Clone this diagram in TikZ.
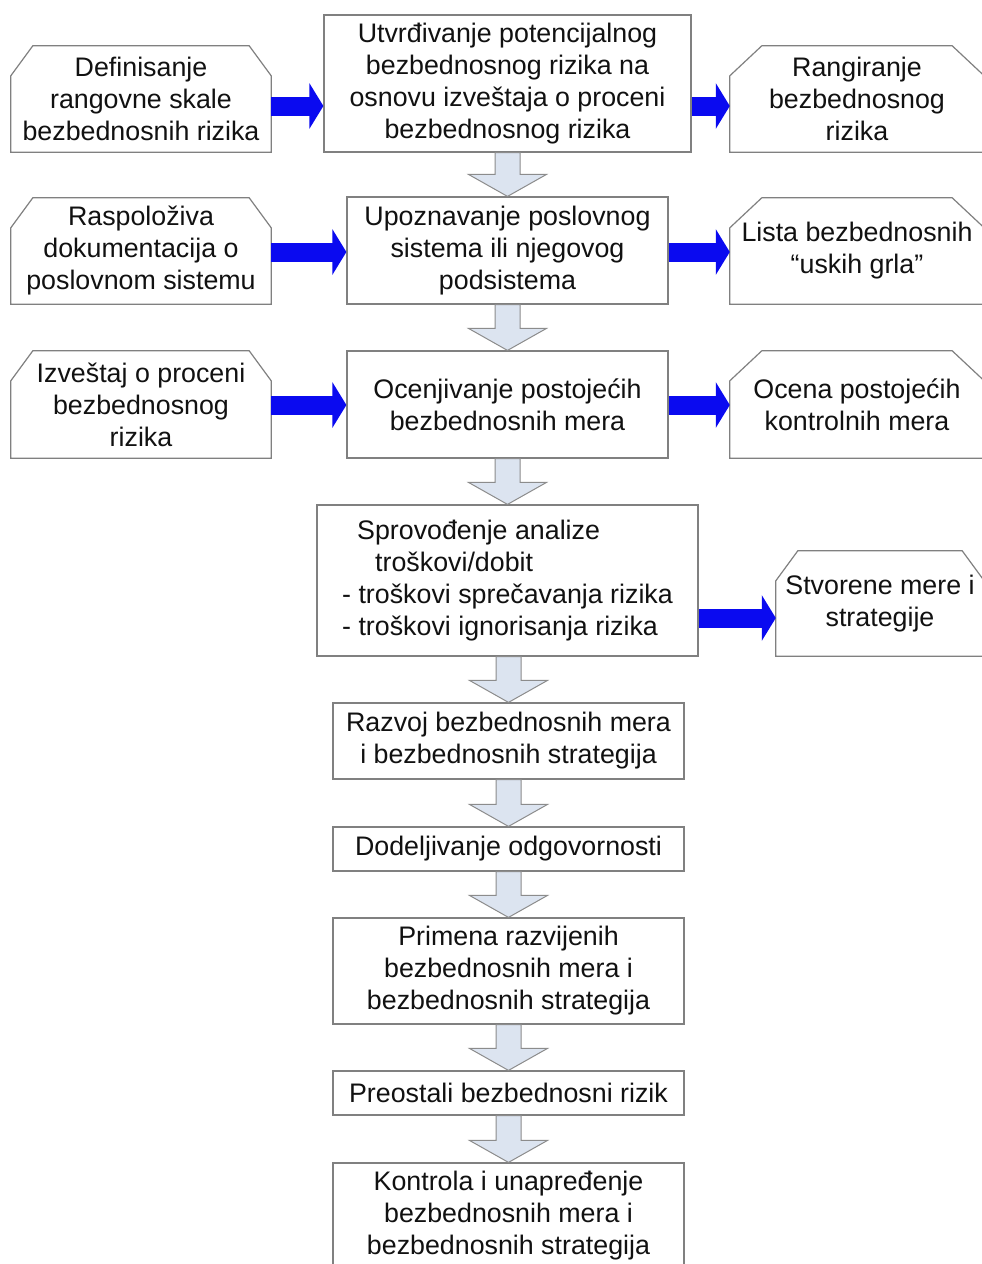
\documentclass[tikz,border=0pt]{standalone}
\usepackage{fontspec}
\setmainfont{Liberation Sans}
\usetikzlibrary{calc,arrows.meta}
\definecolor{boxgray}{HTML}{808080}
\definecolor{arrblue}{HTML}{0A0AF0}
\definecolor{arrfill}{HTML}{DCE4F0}
\definecolor{arredge}{HTML}{8C8C8C}
\definecolor{txt}{HTML}{111111}
\newcommand{\cutbox}[3]{\draw[boxline] (#1.south west) -- ($(#1.north west)+(0,#3)$) -- ($(#1.north west)+(#2,0)$) -- ($(#1.north east)+(-#2,0)$) -- ($(#1.north east)+(0,#3)$) -- (#1.south east) -- cycle;}
\newcommand{\downarr}[2]{\filldraw[grayarr] ($(#2.north |- #1.south)+(-12.5,0)$) -- ($(#2.north)+(-12.5,-22)$) -- ($(#2.north)+(-39,-22)$) -- (#2.north) -- ($(#2.north)+(39,-22)$) -- ($(#2.north)+(12.5,-22)$) -- ($(#2.north |- #1.south)+(12.5,0)$) -- cycle;}
\begin{document}
\begin{tikzpicture}[x=1pt,y=-1pt,
  every node/.style={font=\fontsize{26.8pt}{32pt}\selectfont, text=txt, align=center, inner sep=0pt},
  mainbox/.style={draw=boxgray, line width=1.2pt, fill=white},
  sidebox/.style={},
  boxline/.style={draw=boxgray, line width=1.2pt},
  bluearr/.style={draw=arrblue, line width=19pt, -{Triangle[length=14pt,width=45pt]}},
  grayarr/.style={fill=arrfill, draw=arredge, line width=1pt, line join=miter}]
\useasboundingbox (0,0) rectangle (982,1264);
\clip (0,0) rectangle (982,1264);
\fill[white] (0,0) rectangle (982,1264);

% central column
\node[mainbox, minimum width=367pt, minimum height=137pt] (C1) at (507.5,83.5) {Utvrđivanje potencijalnog\\bezbednosnog rizika na\\osnovu izveštaja o proceni\\bezbednosnog rizika};
\node[mainbox, minimum width=321pt, minimum height=107pt] (C2) at (507.5,250.5) {Upoznavanje poslovnog\\sistema ili njegovog\\podsistema};
\node[mainbox, minimum width=321pt, minimum height=107pt] (C3) at (507.5,404.5) {Ocenjivanje postojećih\\bezbednosnih mera};
\node[mainbox, minimum width=381pt, minimum height=151pt, align=left] (C4) at (507.5,580.5) {\hspace*{15pt}Sprovođenje analize\\\hspace*{33pt}troškovi/dobit\\- troškovi sprečavanja rizika\\- troškovi ignorisanja rizika};
\node[mainbox, minimum width=351pt, minimum height=76pt] (C5) at (508.5,741) {Razvoj bezbednosnih mera\\i bezbednosnih strategija};
\node[mainbox, minimum width=351pt, minimum height=44pt] (C6) at (508.5,849) {Dodeljivanje odgovornosti};
\node[mainbox, minimum width=351pt, minimum height=106pt] (C7) at (508.5,971) {Primena razvijenih\\bezbednosnih mera i\\bezbednosnih strategija};
\node[mainbox, minimum width=351pt, minimum height=44pt] (C8) at (508.5,1093) {Preostali bezbednosni rizik};
\node[mainbox, minimum width=351pt, minimum height=106pt] (C9) at (508.5,1216) {Kontrola i unapređenje\\bezbednosnih mera i\\bezbednosnih strategija};

% left inputs
\node[sidebox, minimum width=260pt, minimum height=106pt] (L1) at (141,99) {Definisanje\\rangovne skale\\bezbednosnih rizika};
\node[sidebox, minimum width=260pt, minimum height=106pt] (L2) at (141,251) {Raspoloživa\\dokumentacija o\\poslovnom sistemu};
\node[sidebox, minimum width=260pt, minimum height=107pt] (L3) at (141,404.5) {Izveštaj o proceni\\bezbednosnog\\rizika};
\cutbox{L1}{22}{30}
\cutbox{L2}{22}{30}
\cutbox{L3}{22}{30}

% right outputs
\node[sidebox, minimum width=254pt, minimum height=106pt] (R1) at (857,99) {Rangiranje\\bezbednosnog\\rizika};
\node[sidebox, minimum width=254pt, minimum height=106pt] (R2) at (857,251) {Lista bezbednosnih\\“uskih grla”};
\node[sidebox, minimum width=254pt, minimum height=107pt] (R3) at (857,404.5) {Ocena postojećih\\kontrolnih mera};
\node[sidebox, minimum width=208pt, minimum height=105pt] (R4) at (880,603.5) {Stvorene mere i\\strategije};
\cutbox{R1}{32}{30}
\cutbox{R2}{32}{30}
\cutbox{R3}{32}{30}
\cutbox{R4}{22}{30}

% blue arrows
\draw[bluearr] (L1.east |- 0,106) -- (C1.west |- 0,106);
\draw[bluearr] (C1.east |- 0,106) -- (R1.west |- 0,106);
\draw[bluearr] (L2.east |- 0,252) -- (C2.west |- 0,252);
\draw[bluearr] (C2.east |- 0,252) -- (R2.west |- 0,252);
\draw[bluearr] (L3.east |- 0,405) -- (C3.west |- 0,405);
\draw[bluearr] (C3.east |- 0,405) -- (R3.west |- 0,405);
\draw[bluearr] (C4.east |- 0,618) -- (R4.west |- 0,618);

% gray arrows
\downarr{C1}{C2}
\downarr{C2}{C3}
\downarr{C3}{C4}
\downarr{C4}{C5}
\downarr{C5}{C6}
\downarr{C6}{C7}
\downarr{C7}{C8}
\downarr{C8}{C9}
\end{tikzpicture}
\end{document}
